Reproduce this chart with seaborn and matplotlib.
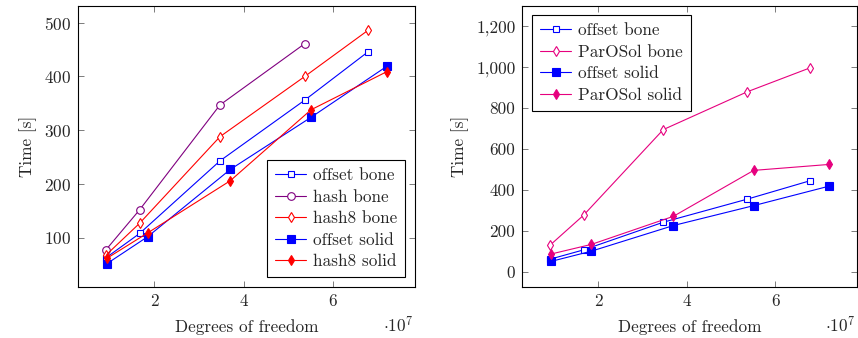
import numpy as np
import pandas as pd
import matplotlib
matplotlib.use('Agg')
import matplotlib.pyplot as plt
from matplotlib.ticker import FuncFormatter
import seaborn as sns

# degrees of freedom (x values)
dof_bone = [0.92e7, 1.67e7, 3.47e7, 5.37e7, 6.79e7]
dof_solid = [0.94e7, 1.85e7, 3.70e7, 5.51e7, 7.21e7]

# times [s]
offset_bone = [63, 108, 243, 356, 446]
hash_bone = [78, 152, 347, 461]
hash8_bone = [68, 127, 288, 400, 486]
offset_solid = [52, 102, 227, 324, 419]
hash8_solid = [62, 109, 206, 338, 409]
parosol_bone = [132, 277, 695, 880, 997]
parosol_solid = [88, 135, 272, 496, 525]

BLUE = '#0000ff'
PURPLE = '#800080'
RED = '#ff0000'
PINK = '#e6007e'
FS = 12.4

sns.set_style('ticks')
plt.rcParams['font.family'] = ['cmr10', 'DejaVu Serif']
plt.rcParams['mathtext.fontset'] = 'cm'
plt.rcParams['axes.formatter.use_mathtext'] = True
plt.rcParams['font.size'] = FS

fig = plt.figure(figsize=(8.58, 3.38), dpi=100)
ax1 = fig.add_axes([0.0909, 0.1509, 0.3928, 0.8313])
ax2 = fig.add_axes([0.6088, 0.1509, 0.3900, 0.8313])


def draw(ax, x, y, label, color, marker, filled, ms):
    sns.lineplot(x=x[:len(y)], y=y, ax=ax, label=label, color=color,
                 marker=marker, markersize=ms, linewidth=0.8,
                 markeredgecolor=color, markeredgewidth=0.8,
                 markerfacecolor=color if filled else 'white')


draw(ax1, dof_bone, offset_bone, 'offset bone', BLUE, 's', False, 5)
draw(ax1, dof_bone, hash_bone, 'hash bone', PURPLE, 'o', False, 5.5)
draw(ax1, dof_bone, hash8_bone, 'hash8 bone', RED, 'd', False, 5)
draw(ax1, dof_solid, offset_solid, 'offset solid', BLUE, 's', True, 6)
draw(ax1, dof_solid, hash8_solid, 'hash8 solid', RED, 'd', True, 5)

draw(ax2, dof_bone, offset_bone, 'offset bone', BLUE, 's', False, 5)
draw(ax2, dof_bone, parosol_bone, 'ParOSol bone', PINK, 'd', False, 5)
draw(ax2, dof_solid, offset_solid, 'offset solid', BLUE, 's', True, 6)
draw(ax2, dof_solid, parosol_solid, 'ParOSol solid', PINK, 'd', True, 5)

ax1.set_ylim(8.5, 531)
ax1.set_yticks([100, 200, 300, 400, 500])
ax2.set_ylim(-73, 1298)
ax2.set_yticks([0, 200, 400, 600, 800, 1000, 1200])
ax2.yaxis.set_major_formatter(FuncFormatter(lambda v, _: f'{int(v):,}'))

for ax in (ax1, ax2):
    ax.set_xlim(0.29e7, 7.84e7)
    ax.set_xticks([2e7, 4e7, 6e7])
    ax.xaxis.set_major_formatter(FuncFormatter(lambda v, _: f'{v / 1e7:g}'))
    ax.tick_params(direction='in', top=True, right=True, length=4,
                   width=0.6, color='#666666', labelsize=FS, pad=5)
    for s in ax.spines.values():
        s.set_linewidth(0.8)
        s.set_color('black')
    ax.set_xlabel('Degrees of freedom', fontsize=FS, labelpad=7)
    ax.set_ylabel('Time [s]', fontsize=FS, labelpad=5)
    ax.text(0.995, -0.1, r'$\cdot 10^7$', transform=ax.transAxes,
            ha='right', va='top', fontsize=FS)

leg_kw = dict(fancybox=False, edgecolor='black', framealpha=1,
              borderaxespad=0, handlelength=1.8, handletextpad=0.4,
              labelspacing=0.36, fontsize=FS, borderpad=0.45)
leg1 = ax1.legend(loc='lower right', bbox_to_anchor=(0.97, 0.035), **leg_kw)
leg1.get_frame().set_linewidth(0.8)
leg2 = ax2.legend(loc='upper left', bbox_to_anchor=(0.03, 0.967), **leg_kw)
leg2.get_frame().set_linewidth(0.8)

fig.savefig('out.png', dpi=100)
